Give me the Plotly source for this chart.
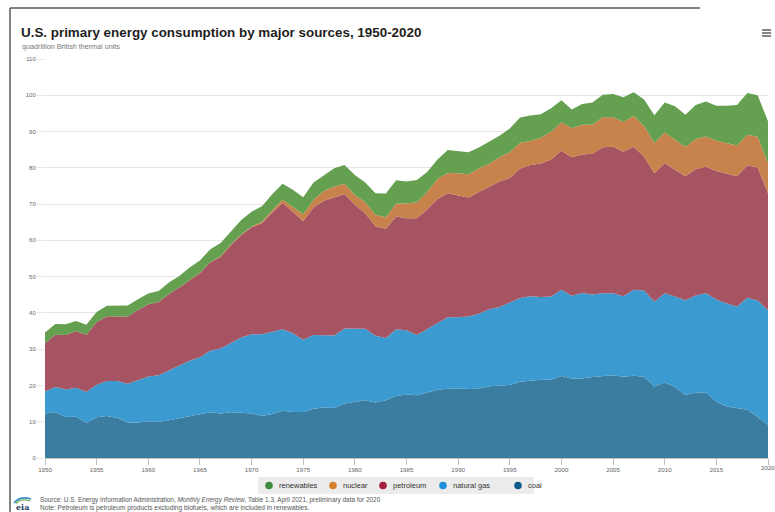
import plotly.graph_objects as go

years = list(range(1950, 2021))

coal = [12.3, 12.6, 11.3, 11.4, 9.7, 11.2, 11.6, 11.0, 9.8, 9.8,
        10.1, 9.9, 10.4, 10.9, 11.5, 12.0, 12.6, 12.3, 12.6, 12.5,
        12.3, 11.6, 12.1, 13.0, 12.7, 12.7, 13.6, 13.9, 13.8, 15.0,
        15.4, 15.9, 15.3, 15.9, 17.1, 17.5, 17.3, 18.0, 18.8, 19.1,
        19.2, 19.0, 19.1, 19.8, 19.9, 20.1, 21.0, 21.4, 21.6, 21.6,
        22.6, 21.9, 21.9, 22.3, 22.5, 22.8, 22.4, 22.7, 22.4, 19.7,
        20.8, 19.6, 17.4, 18.0, 18.0, 15.5, 14.2, 13.8, 13.3, 11.3, 9.2]

natural_gas = [6.0, 7.0, 7.6, 8.0, 8.5, 9.0, 9.6, 10.2, 10.7, 11.7,
               12.4, 12.9, 13.7, 14.4, 15.3, 15.8, 17.0, 17.9, 19.1, 20.7,
               21.8, 22.5, 22.7, 22.5, 21.7, 19.9, 20.3, 19.9, 20.0, 20.7,
               20.2, 19.7, 18.4, 17.2, 18.4, 17.7, 16.6, 17.6, 18.4, 19.7,
               19.6, 20.0, 20.7, 21.2, 21.7, 22.7, 23.1, 23.2, 22.8, 22.9,
               23.8, 22.8, 23.6, 22.8, 22.9, 22.6, 22.2, 23.7, 23.8, 23.4,
               24.6, 24.9, 26.1, 26.8, 27.4, 28.2, 28.4, 28.0, 30.9, 32.1, 31.5]

petroleum = [13.3, 14.4, 15.0, 15.6, 15.8, 17.3, 17.9, 17.9, 18.5, 19.3,
             19.9, 20.2, 21.1, 21.7, 22.3, 23.2, 24.4, 25.3, 27.0, 28.3,
             29.5, 30.6, 32.9, 34.8, 33.5, 32.7, 35.2, 37.1, 38.0, 37.1,
             34.2, 31.9, 30.2, 30.1, 31.1, 30.9, 32.2, 32.9, 34.2, 34.2,
             33.6, 32.8, 33.5, 33.7, 34.6, 34.4, 35.7, 36.2, 36.8, 37.8,
             38.3, 38.2, 38.2, 38.8, 40.3, 40.4, 39.8, 39.4, 36.9, 35.4,
             35.9, 35.0, 34.2, 34.9, 34.9, 35.4, 35.7, 35.9, 36.5, 36.7, 32.3]

nuclear = [0.0, 0.0, 0.0, 0.0, 0.0, 0.0, 0.0, 0.0, 0.0, 0.0,
           0.01, 0.02, 0.03, 0.03, 0.04, 0.04, 0.06, 0.09, 0.14, 0.15,
           0.24, 0.41, 0.58, 0.91, 1.27, 1.90, 2.11, 2.70, 3.02, 2.78,
           2.74, 3.01, 3.13, 3.20, 3.55, 4.08, 4.38, 4.75, 5.59, 5.60,
           6.10, 6.42, 6.48, 6.41, 6.69, 7.08, 7.09, 6.60, 7.07, 7.61,
           7.86, 8.03, 8.14, 7.96, 8.22, 8.16, 8.21, 8.46, 8.43, 8.36,
           8.43, 8.27, 8.06, 8.27, 8.34, 8.34, 8.43, 8.42, 8.44, 8.45, 8.25]

renewables = [2.98, 2.96, 2.94, 2.78, 2.72, 2.78, 2.84, 2.85, 3.05, 2.98,
              2.93, 3.01, 3.18, 3.16, 3.39, 3.40, 3.49, 3.69, 3.69, 3.99,
              4.08, 4.27, 4.40, 4.43, 4.77, 4.72, 4.77, 4.25, 5.04, 5.17,
              5.49, 5.47, 5.98, 6.50, 6.44, 6.08, 6.13, 5.60, 5.31, 6.28,
              6.04, 6.07, 5.82, 6.07, 5.96, 6.56, 7.01, 7.02, 6.49, 6.51,
              6.10, 5.16, 5.73, 6.15, 6.25, 6.41, 6.82, 6.57, 7.32, 7.64,
              8.29, 9.22, 8.87, 9.38, 9.65, 9.66, 10.35, 11.17, 11.49, 11.45, 11.59]

# stacking order bottom -> top
series_names = ["coal", "natural gas", "petroleum", "nuclear", "renewables"]
series_values = [coal, natural_gas, petroleum, nuclear, renewables]
fill_colors = ["#3b7ca1", "#3b9bd1", "#a75462", "#c8834d", "#64a050"]

# legend order
legend_names = ["renewables", "nuclear", "petroleum", "natural gas", "coal"]
legend_colors = ["#3f8c3f", "#d4822b", "#a51f3e", "#1f90dc", "#0d5c8c"]

y_ticks = list(range(0, 111, 10))
x_ticks = list(range(1950, 2021, 5))

FONT = "Liberation Sans, Arial, sans-serif"
W, H = 775, 512
L, R, T, B = 45, 7, 59, 54
PW, PH = W - L - R, H - T - B


def px(x):
    return (x - L) / PW


def py(y):
    return (H - B - y) / PH


fig = go.Figure()
for name, vals, col in zip(series_names, series_values, fill_colors):
    fig.add_trace(go.Scatter(
        x=years, y=vals, name=name, mode="lines",
        stackgroup="one", line=dict(width=0),
        fillcolor=col, showlegend=False,
        hovertemplate="%{x}: %{y:.1f}<extra>" + name + "</extra>",
    ))

shapes = []
annotations = []

# frame lines (left and top)
shapes.append(dict(type="line", xref="paper", yref="paper",
                   x0=px(10), x1=px(10), y0=py(8), y1=py(H),
                   line=dict(color="#5a5a5a", width=1.5)))
shapes.append(dict(type="line", xref="paper", yref="paper",
                   x0=px(10), x1=px(700), y0=py(8), y1=py(8),
                   line=dict(color="#5a5a5a", width=1.5)))

# menu icon
for yy in (30, 33, 36):
    shapes.append(dict(type="line", xref="paper", yref="paper",
                       x0=px(762), x1=px(771), y0=py(yy), y1=py(yy),
                       line=dict(color="#666666", width=1.6)))

# manual legend
shapes.append(dict(type="rect", xref="paper", yref="paper",
                   x0=px(258), x1=px(534), y0=py(477), y1=py(494),
                   fillcolor="#ececec", line=dict(width=0), layer="below"))
marker_x = [269, 333, 383, 443, 518]
for name, col, mx in zip(legend_names, legend_colors, marker_x):
    shapes.append(dict(type="circle", xref="paper", yref="paper",
                       x0=px(mx - 3.8), x1=px(mx + 3.8),
                       y0=py(485.5 - 3.8), y1=py(485.5 + 3.8),
                       fillcolor=col, line=dict(width=0)))
    annotations.append(dict(text=name, xref="paper", yref="paper",
                            x=px(mx + 8), y=py(485.5), xanchor="left",
                            yanchor="middle", showarrow=False,
                            font=dict(family=FONT, size=7.5, color="#333333")))

# last x tick label (plotly hides it when it touches the page edge)
annotations.append(dict(text=str(x_ticks[-1]), xref="x", yref="paper",
                        x=x_ticks[-1], y=py(467), xanchor="center",
                        yanchor="middle", showarrow=False,
                        font=dict(family=FONT, size=6.2, color="#666666")))

# title & subtitle
annotations.append(dict(text="<b>U.S. primary energy consumption by major sources, 1950-2020</b>",
                        xref="paper", yref="paper", x=px(19), y=py(33),
                        xanchor="left", yanchor="middle", showarrow=False,
                        font=dict(family=FONT, size=13.4, color="#1e1e1e")))
annotations.append(dict(text="quadrillion British thermal units",
                        xref="paper", yref="paper", x=px(20), y=py(46),
                        xanchor="left", yanchor="middle", showarrow=False,
                        font=dict(family=FONT, size=7.2, color="#777777")))

# source & note
annotations.append(dict(text="Source: U.S. Energy Information Administration, <i>Monthly Energy Review</i>, Table 1.3, April 2021, preliminary data for 2020",
                        xref="paper", yref="paper", x=px(38), y=py(500),
                        xanchor="left", yanchor="middle", showarrow=False,
                        font=dict(family=FONT, size=6.4, color="#555555")))
annotations.append(dict(text="Note: Petroleum is petroleum products excluding biofuels, which are included in renewables.",
                        xref="paper", yref="paper", x=px(38), y=py(508),
                        xanchor="left", yanchor="middle", showarrow=False,
                        font=dict(family=FONT, size=6.6, color="#555555")))

# eia logo
annotations.append(dict(text="<b>eia</b>", xref="paper", yref="paper",
                        x=px(22), y=py(507.5), xanchor="center", yanchor="middle",
                        showarrow=False,
                        font=dict(family="DejaVu Serif, serif", size=8, color="#1b3a5c")))
shapes.append(dict(type="path", xref="paper", yref="paper",
                   path="M {} {} Q {} {} {} {}".format(px(14), py(503), px(20), py(495.5), px(31), py(499)),
                   line=dict(color="#3a8fc8", width=1.6)))
shapes.append(dict(type="path", xref="paper", yref="paper",
                   path="M {} {} Q {} {} {} {}".format(px(16), py(503.5), px(21), py(498), px(30), py(501)),
                   line=dict(color="#6cb04a", width=1.2)))

fig.update_layout(
    width=W, height=H,
    margin=dict(l=L, r=R, t=T, b=B),
    paper_bgcolor="white", plot_bgcolor="white",
    showlegend=False,
    shapes=shapes, annotations=annotations,
    font=dict(family=FONT, color="#666666"),
    xaxis=dict(range=[1950, 2020], tickvals=x_ticks,
               ticktext=[str(t) for t in x_ticks],
               showgrid=False, zeroline=False,
               showline=True, linecolor="#c0c0c0", linewidth=1,
               ticks="outside", ticklen=6, tickcolor="#c0c0c0",
               tickfont=dict(family=FONT, size=6.2, color="#666666")),
    yaxis=dict(range=[0, 110], tickvals=y_ticks,
               ticktext=[str(t) for t in y_ticks],
               showgrid=True, gridcolor="#e6e6e6", gridwidth=1,
               zeroline=False, showline=False,
               ticks="outside", ticklen=7, tickcolor="#e6e6e6",
               tickfont=dict(family=FONT, size=6, color="#666666")),
)

fig.write_html("out.html")

with open("out.html", encoding="utf-8") as f:
    html = f.read()
html = html.replace("<head>", "<head><style>html,body{margin:0;padding:0;overflow:hidden;}</style>", 1)
with open("out.html", "w", encoding="utf-8") as f:
    f.write(html)
